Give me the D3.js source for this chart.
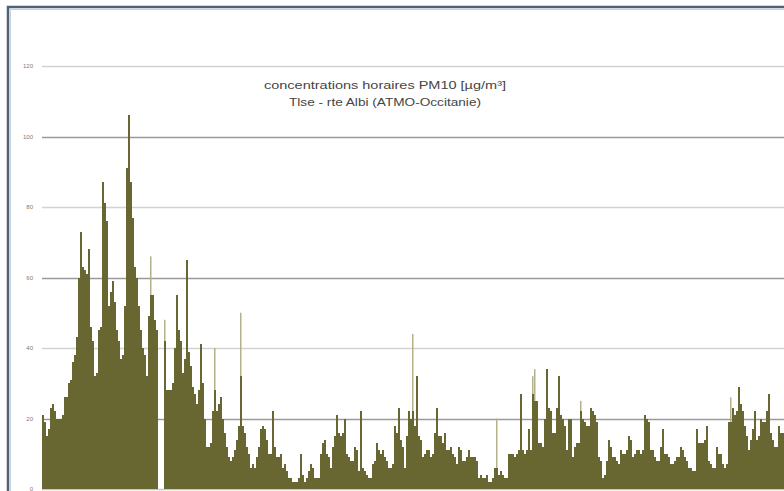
<!DOCTYPE html>
<html>
<head>
<meta charset="utf-8">
<script src="https://cdn.jsdelivr.net/npm/d3@7"></script>
<style>
  html, body { margin: 0; padding: 0; background: #fff; }
  svg { display: block; }
</style>
</head>
<body>
<svg id="chart" width="784" height="491"></svg>
<script>
// Hourly PM10 concentrations (µg/m³), Toulouse - route d'Albi station
const titleLines = ["concentrations horaires PM10 [µg/m³]", "Tlse - rte Albi (ATMO-Occitanie)"];
const yTicks = [0, 20, 40, 60, 80, 100, 120];
const pm10 = [
  21,19,15,17,23,24,22,20,20,20,21,26,26,30,31,36,38,43,60,73,
  63,62,61,68,46,42,32,33,45,46,87,81,76,52,56,59,53,45,42,37,
  38,52,91,106,87,77,63,60,52,45,40,38,32,49,55,55,48,45,0,0,
  0,42,28,28,28,30,40,55,45,42,33,37,65,39,35,29,27,24,28,41,
  30,20,12,12,13,22,28,22,24,26,20,16,12,9,8,9,11,14,18,32,
  18,16,12,10,6,7,6,9,12,17,18,17,14,10,10,22,12,9,9,10,
  6,7,5,3,3,2,2,2,3,10,4,2,3,5,7,6,3,3,3,10,
  13,14,10,9,6,12,15,21,16,15,16,20,10,9,8,8,12,11,5,22,
  6,5,4,3,3,7,8,13,11,10,11,9,8,6,6,7,18,16,23,14,
  12,6,15,22,20,22,18,32,15,14,9,10,11,11,9,10,16,23,15,15,
  13,16,11,11,12,10,9,7,12,11,8,8,9,11,9,9,9,8,3,4,
  3,3,4,2,2,3,6,6,4,5,4,3,3,10,10,10,9,10,11,27,
  11,10,11,17,11,27,25,25,13,13,12,20,34,23,22,16,16,23,32,21,
  20,18,11,20,20,9,12,13,13,22,20,19,18,18,23,22,21,19,9,8,
  3,4,8,14,12,9,9,8,7,11,10,10,11,15,14,9,10,11,11,10,
  11,21,20,19,11,11,9,8,8,12,17,10,10,9,7,7,8,9,9,12,
  11,9,8,6,6,5,5,17,13,13,13,14,18,8,7,6,6,12,10,10,
  7,6,7,19,19,23,21,22,29,24,22,18,15,11,14,17,22,14,15,20,
  19,19,22,27,16,14,12,12,18,16,16
];
// brief hourly peaks reached within some of the intervals above
const peakIndex = [54, 61, 86, 99, 185, 227, 245, 246, 269, 344];
const peakValue = [66, 48, 40, 50, 44, 20, 32, 34, 25, 26];

const svg = d3.select("#chart");
const W = 784, H = 491;
const plot = { left: 42, right: 784, top: 66, bottom: 489 };

// outer frame of the chart area
svg.append("rect")
  .attr("x", 8).attr("y", 7)
  .attr("width", W + 20).attr("height", H + 20)
  .attr("fill", "#fff")
  .attr("stroke", "#4f6078").attr("stroke-width", 2.5);
svg.append("rect")
  .attr("x", 10.5).attr("y", 9.5)
  .attr("width", W + 20).attr("height", H + 20)
  .attr("fill", "none")
  .attr("stroke", "#c9d0da").attr("stroke-width", 1);

const x = d3.scaleBand()
  .domain(d3.range(pm10.length))
  .range([plot.left, plot.right])
  .paddingInner(0).paddingOuter(0);

const y = d3.scaleLinear()
  .domain([0, 120])
  .range([plot.bottom, plot.top]);

// horizontal gridlines
const grid = svg.append("g");
grid.selectAll("line")
  .data(yTicks)
  .join("line")
  .attr("x1", plot.left).attr("x2", plot.right)
  .attr("y1", d => Math.round(y(d)) + 0.5)
  .attr("y2", d => Math.round(y(d)) + 0.5)
  .attr("stroke", d => (d === 0 ? "#c8c8c8" : (d / 20) % 2 === 1 ? "#9a9a9a" : "#d2d2d2"))
  .attr("stroke-width", 1.3);

// y-axis tick labels
const yAxis = d3.axisLeft(y).tickValues(yTicks).tickSize(0).tickPadding(0);
const gy = svg.append("g")
  .attr("transform", `translate(${plot.left - 9},0)`)
  .call(yAxis);
gy.select(".domain").remove();
gy.selectAll("text")
  .attr("fill", "#7a7a7a")
  .attr("font-family", "Liberation Sans, Arial, sans-serif")
  .attr("font-size", 6);

// short peaks, drawn as thin pale strokes behind the hourly bars
svg.append("g")
  .selectAll("rect")
  .data(peakIndex)
  .join("rect")
  .attr("x", i => x(i))
  .attr("width", 1.5)
  .attr("y", (i, k) => y(peakValue[k]))
  .attr("height", (i, k) => y(0) - y(peakValue[k]))
  .attr("fill", "#b3b18a");

// hourly bars
svg.append("g")
  .selectAll("rect")
  .data(pm10)
  .join("rect")
  .attr("x", (d, i) => x(i))
  .attr("width", x.bandwidth())
  .attr("y", d => y(d))
  .attr("height", d => y(0) - y(d))
  .attr("fill", "#686631")
  .attr("shape-rendering", "crispEdges");

// title
const titleWidths = [242, 192];
const title = svg.append("g")
  .attr("font-family", "Liberation Sans, Arial, sans-serif")
  .attr("font-size", 11.5)
  .attr("fill", "#454545")
  .attr("text-anchor", "middle");
title.selectAll("text")
  .data(titleLines)
  .join("text")
  .attr("x", 385)
  .attr("y", (d, i) => 89 + i * 17)
  .attr("textLength", (d, i) => titleWidths[i])
  .attr("lengthAdjust", "spacingAndGlyphs")
  .text(d => d);
</script>
</body>
</html>
